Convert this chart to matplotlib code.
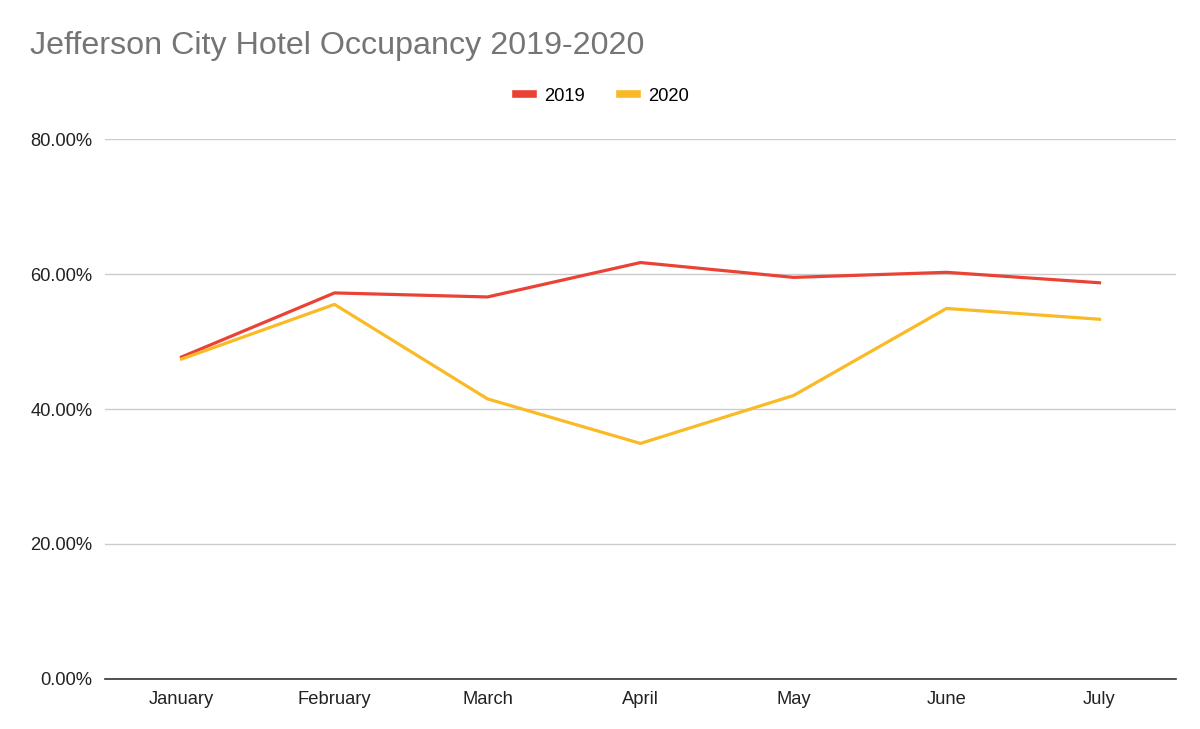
import matplotlib.pyplot as plt
from matplotlib.lines import Line2D
from matplotlib.ticker import FuncFormatter

months = ["January", "February", "March", "April", "May", "June", "July"]
occ_2019 = [47.7, 57.2, 56.6, 61.7, 59.5, 60.25, 58.7]
occ_2020 = [47.4, 55.5, 41.5, 34.9, 42.0, 54.9, 53.3]
yticks = [0, 20, 40, 60, 80]

red = "#EA4335"
yellow = "#F9BA25"

plt.rcParams["font.family"] = ["Liberation Sans", "DejaVu Sans"]

fig = plt.figure(figsize=(12, 7.29), dpi=100)
ax = fig.add_axes([0.0875, 0.0686, 0.8925, 0.7407])

x = list(range(len(months)))
ax.plot(x, occ_2019, color=red, lw=2.3, solid_joinstyle="round", zorder=3)
ax.plot(x, occ_2020, color=yellow, lw=2.3, solid_joinstyle="round", zorder=3)

ax.set_xlim(-0.5, len(months) - 0.5)
ax.set_ylim(0, 80)
ax.set_yticks(yticks)
ax.yaxis.set_major_formatter(FuncFormatter(lambda v, p: f"{v:.2f}%"))
ax.set_xticks(x)
ax.set_xticklabels(months)
ax.tick_params(axis="both", length=0, labelsize=13.2, colors="#222222")
ax.tick_params(axis="x", pad=9)
ax.tick_params(axis="y", pad=9)
ax.grid(axis="y", color="#cccccc", lw=1)
ax.set_axisbelow(True)
for s in ["top", "right", "left"]:
    ax.spines[s].set_visible(False)
ax.spines["bottom"].set_color("#333333")
ax.spines["bottom"].set_linewidth(1.2)
ax.spines["bottom"].set_zorder(4)

fig.text(0.025, 0.937, "Jefferson City Hotel Occupancy 2019-2020",
         fontsize=23.2, color="#757575", va="center", ha="left")

handles = [Line2D([], [], color=red, lw=5.5), Line2D([], [], color=yellow, lw=5.5)]
fig.legend(handles, ["2019", "2020"], loc="center", bbox_to_anchor=(0.502, 0.868),
           ncol=2, frameon=False, fontsize=13.2, handlelength=0.95,
           handletextpad=0.6, columnspacing=1.9)

fig.savefig("out.png", dpi=100)
